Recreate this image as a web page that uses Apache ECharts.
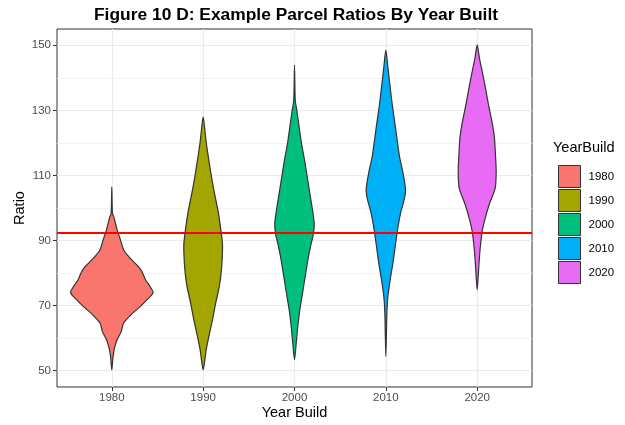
<!DOCTYPE html>
<html>
<head>
<meta charset="utf-8">
<script src="https://cdn.jsdelivr.net/npm/echarts@6/dist/echarts.min.js"></script>
<style>
html, body { margin: 0; padding: 0; background: #fff; }
#chart { width: 625px; height: 425px; }
</style>
</head>
<body>
<div id="chart"></div>
<script>
// categories
var years = ['1980', '1990', '2000', '2010', '2020'];
var colors = ['#F8766D', '#A3A500', '#00BF7D', '#00B0F6', '#E76BF3'];

// violin outlines: ratio levels (top to bottom) and half widths (in category units)
var ratio1980 = [106.5, 98.4, 97.3, 93.3, 90.2, 87.1, 84.6, 82.0, 80.5, 77.9, 75.9, 74.0, 72.3, 69.7, 67.2, 64.6, 62.1, 59.5, 57.0, 54.4, 50.3];
var width1980 = [0, 0.007, 0.022, 0.058, 0.095, 0.131, 0.200, 0.292, 0.329, 0.370, 0.419, 0.452, 0.402, 0.310, 0.210, 0.128, 0.104, 0.058, 0.030, 0.014, 0];

var ratio1990 = [128.0, 123.9, 119.8, 114.7, 109.6, 104.5, 99.4, 94.3, 89.2, 86.1, 81.0, 75.9, 70.8, 65.6, 60.5, 56.4, 52.4, 50.3];
var width1990 = [0, 0.019, 0.035, 0.062, 0.091, 0.124, 0.161, 0.189, 0.211, 0.211, 0.200, 0.177, 0.137, 0.102, 0.062, 0.033, 0.014, 0];

var ratio2000 = [143.9, 133.1, 130.1, 124.9, 119.8, 114.7, 109.6, 104.5, 99.4, 95.3, 92.2, 88.1, 84.0, 78.9, 73.8, 68.7, 63.6, 58.5, 53.4];
var width2000 = [0, 0.008, 0.025, 0.051, 0.077, 0.110, 0.139, 0.168, 0.197, 0.216, 0.208, 0.175, 0.146, 0.117, 0.088, 0.058, 0.036, 0.019, 0];

var ratio2010 = [148.5, 143.3, 136.2, 131.1, 126.0, 120.9, 115.7, 110.6, 105.5, 102.5, 98.4, 93.3, 88.1, 83.0, 77.9, 72.8, 67.7, 54.4];
var width2010 = [0, 0.022, 0.051, 0.073, 0.099, 0.124, 0.150, 0.189, 0.216, 0.200, 0.161, 0.128, 0.102, 0.077, 0.047, 0.022, 0.011, 0];

var ratio2020 = [150.1, 146.0, 141.9, 136.8, 131.7, 126.6, 121.5, 116.3, 111.3, 106.1, 101.0, 96.9, 92.9, 87.7, 82.6, 74.9];
var width2020 = [0, 0.025, 0.055, 0.091, 0.124, 0.161, 0.189, 0.200, 0.208, 0.197, 0.131, 0.088, 0.055, 0.033, 0.019, 0];

var ratios = [ratio1980, ratio1990, ratio2000, ratio2010, ratio2020];
var widths = [width1980, width1990, width2000, width2010, width2020];

// reference line
var refLine = 92.5;

// tick labels
var yMajorTicks = [50, 70, 90, 110, 130, 150];
var yMinorTicks = [60, 80, 100, 120, 140];
var xTicks = [1, 2, 3, 4, 5];

var FONT = 'Liberation Sans, Arial, sans-serif';

var chart = echarts.init(document.getElementById('chart'));

// violin shape
function violinItem(rs, ws) {
	return function(params, api) {
		var cx = api.value(0);
		var right = [], left = [];
		for (var i = 0; i < rs.length; i++) {
			right.push(api.coord([cx + ws[i], rs[i]]));
			if (ws[i] > 0) {
				left.unshift(api.coord([cx - ws[i], rs[i]]));
			}
		}
		return {
			type : 'polygon',
			shape : {
				points : right.concat(left),
				smooth : 0.25
			},
			style : {
				fill : api.visual('color'),
				stroke : '#333333',
				lineWidth : 1.2
			}
		};
	};
}

var gridLines = [];
for (var a = 0; a < yMajorTicks.length; a++) {
	gridLines.push({ yAxis : yMajorTicks[a], lineStyle : { color : '#ebebeb', width : 1.2, type : 'solid' } });
}
for (var b = 0; b < yMinorTicks.length; b++) {
	gridLines.push({ yAxis : yMinorTicks[b], lineStyle : { color : '#f3f3f3', width : 1, type : 'solid' } });
}
for (var c = 0; c < xTicks.length; c++) {
	gridLines.push({ xAxis : xTicks[c], lineStyle : { color : '#ebebeb', width : 1.2, type : 'solid' } });
}

var series = [ {
	type : 'line',
	data : [],
	z : 1,
	silent : true,
	markLine : {
		z : 1,
		silent : true,
		symbol : [ 'none', 'none' ],
		label : { show : false },
		animation : false,
		data : gridLines
	}
} ];

for (var k = 0; k < years.length; k++) {
	series.push({
		name : years[k],
		type : 'custom',
		z : 3,
		itemStyle : { color : colors[k], borderColor : '#333333', borderWidth : 1 },
		renderItem : violinItem(ratios[k], widths[k]),
		data : [ [ xTicks[k] ] ]
	});
}

series.push({
	type : 'line',
	data : [],
	z : 6,
	silent : true,
	markLine : {
		z : 6,
		silent : true,
		symbol : [ 'none', 'none' ],
		label : { show : false },
		animation : false,
		data : [ { yAxis : refLine, lineStyle : { color : '#ff0000', width : 2, type : 'solid' } } ]
	}
});

var option = {
	animation : false,
	backgroundColor : '#ffffff',
	graphic : [ {
		type : 'text',
		x : 296,
		y : 15,
		style : {
			text : 'Figure 10 D: Example Parcel Ratios By Year Built',
			textAlign : 'center',
			textVerticalAlign : 'middle',
			font : 'bold 17.4px ' + FONT,
			fill : '#000000'
		}
	}, {
		type : 'text',
		x : 553,
		y : 148,
		style : {
			text : 'YearBuild',
			textAlign : 'left',
			textVerticalAlign : 'middle',
			font : '14.5px ' + FONT,
			fill : '#000000'
		}
	} ],
	grid : {
		left : 57,
		right : 93,
		top : 29,
		bottom : 38,
		containLabel : false,
		outerBoundsMode : 'none',
		show : true,
		backgroundColor : '#ffffff',
		borderColor : '#333333',
		borderWidth : 1
	},
	legend : {
		orient : 'vertical',
		left : 553,
		top : 160,
		itemWidth : 22,
		itemHeight : 22,
		itemGap : 1,
		icon : 'rect',
		selectedMode : false,
		itemStyle : { borderColor : '#333333', borderWidth : 1 },
		textStyle : { fontSize : 11.5, color : '#000000', fontFamily : FONT, padding : [ 0, 0, 0, 3 ] },
		data : years
	},
	xAxis : {
		type : 'value',
		min : 0.4,
		max : 5.6,
		name : 'Year Build',
		nameLocation : 'middle',
		nameGap : 18,
		nameMoveOverlap : false,
		nameTextStyle : { fontSize : 14.5, color : '#000000', fontFamily : FONT },
		axisLine : { show : false },
		splitLine : { show : false },
		axisTick : { show : true, length : 4, lineStyle : { color : '#333333' }, customValues : xTicks },
		axisLabel : {
			customValues : xTicks,
			margin : 5,
			fontSize : 11.5,
			color : '#4d4d4d',
			fontFamily : FONT,
			formatter : function(v) { return years[Math.round(v) - 1]; }
		}
	},
	yAxis : {
		type : 'value',
		min : 45,
		max : 155,
		name : 'Ratio',
		nameLocation : 'middle',
		nameRotate : 90,
		nameGap : 30,
		nameMoveOverlap : false,
		nameTextStyle : { fontSize : 14.5, color : '#000000', fontFamily : FONT },
		axisLine : { show : false },
		splitLine : { show : false },
		axisTick : { show : true, length : 4, lineStyle : { color : '#333333' }, customValues : yMajorTicks },
		axisLabel : {
			customValues : yMajorTicks,
			margin : 6,
			fontSize : 11.5,
			color : '#4d4d4d',
			fontFamily : FONT
		}
	},
	series : series
};

chart.setOption(option);
</script>
</body>
</html>
